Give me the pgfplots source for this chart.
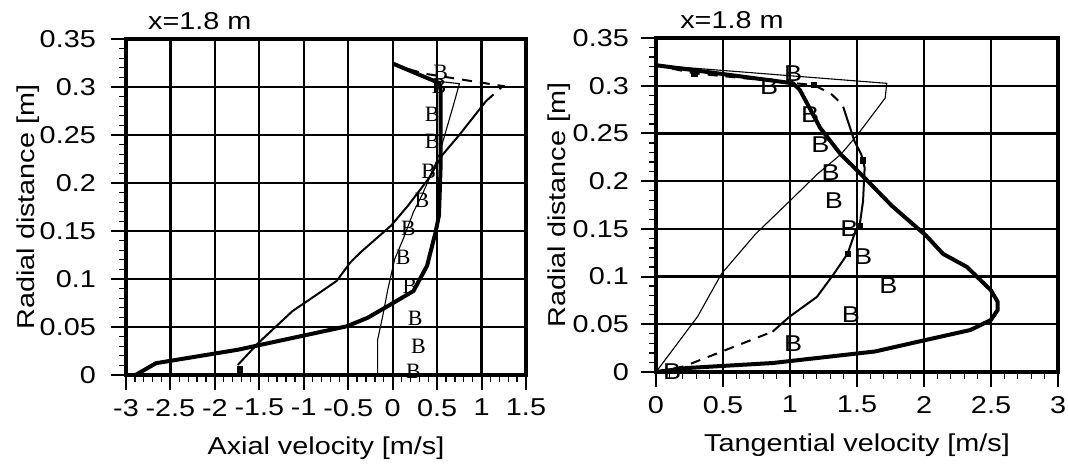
\documentclass[border=0pt]{standalone}
\usepackage{fontspec}
\setmainfont{Liberation Sans}[FakeStretch=1.18]
\newfontfamily\serifB{Liberation Serif}
\usepackage{pgfplots}
\pgfplotsset{compat=1.18}
\pgfplotsset{
  vel/.style={
    scale only axis, anchor=south west, clip mode=individual,
    ymin=0, ymax=0.35,
    ytick={0,0.05,0.1,0.15,0.2,0.25,0.3,0.35},
    yticklabels={0,0.05,0.1,0.15,0.2,0.25,0.3,0.35},
    minor tick num=4,
    tick align=outside, tick pos=left,
    major tick length=15bp, minor tick length=7bp,
    major tick style={line width=2bp, black},
    minor tick style={line width=1.3bp, black},
    axis line style={line width=3.4bp, black},
    grid=major, grid style={line width=2.3bp, black},
    major grid style={line width=2.3bp, black},
    tick label style={font=\fontsize{24.5}{28}\selectfont},
    yticklabel style={anchor=east, inner sep=0pt, xshift=-15bp},
    xticklabel style={anchor=north, inner sep=0pt, yshift=-9bp},
    every axis y label/.style={rotate=90, anchor=base, inner sep=0pt, font=\fontsize{24.5}{28}\selectfont},
    every axis x label/.style={anchor=base, inner sep=0pt, font=\fontsize{24.5}{28}\selectfont},
  },
  thickc/.style={line width=4bp, black},
  medc/.style={line width=2bp, black},
  thinc/.style={line width=1.1bp, black},
  dashc/.style={line width=2bp, black, dash pattern=on 10bp off 8bp},
  bL/.style={draw=none, nodes near coords={\serifB B},
    every node near coord/.append style={anchor=center, inner sep=0pt, font=\fontsize{22}{22}\selectfont}},
  bR/.style={draw=none, nodes near coords={B},
    every node near coord/.append style={anchor=center, inner sep=0pt, font=\fontsize{23}{23}\selectfont}},
}
\begin{document}
\begin{tikzpicture}
\path[use as bounding box] (0,0) rectangle (1068bp,466bp);
% ---------------- left: axial velocity ----------------
\begin{axis}[vel, at={(126bp,91bp)}, width=400bp, height=336bp,
  xmin=-3, xmax=1.5,
  xtick={-3,-2.5,-2,-1.5,-1,-0.5,0,0.5,1,1.5},
  xticklabels={-3,-2.5,-2,-1.5,-1,-0.5,0,0.5,1,1.5},
  xlabel={Axial velocity [m/s]}, ylabel={Radial distance [m]},
  xlabel style={at={(axis description cs:0.5,-0.238)}},
  ylabel style={at={(axis description cs:-0.23,0.5)}},
]
\addplot[thickc] coordinates {
 (-2.893,0) (-2.662,0.0123) (-1.742,0.0263) (-0.514,0.0508) (-0.284,0.0595)
 (-0.054,0.0718) (0.234,0.0875) (0.387,0.1138) (0.483,0.1488) (0.521,0.1663)
 (0.540,0.2188) (0.540,0.2958) (0.525,0.3040) (0.0,0.3245)};
\addplot[medc] coordinates {
 (-1.742,0.0105) (-1.512,0.0333) (-1.128,0.0665) (-0.821,0.0858) (-0.630,0.098)
 (-0.476,0.1173) (-0.361,0.1278) (-0.016,0.1558) (0.176,0.1768) (0.406,0.2048)
 (0.560,0.2293) (0.752,0.2503) (1.050,0.2853)};
\addplot[dashc] coordinates {(1.050,0.2853) (1.24,0.301) (0.35,0.314) (0.0,0.3235)};
\addplot[only marks, mark=square*, mark size=2.8bp, black] coordinates {(-1.723,0.006)};
\addplot[thinc] coordinates {
 (-0.169,0) (-0.169,0.0368) (-0.112,0.0613) (-0.054,0.0893) (0.023,0.1208)
 (0.119,0.1418) (0.234,0.1698) (0.330,0.1873) (0.445,0.2118) (0.521,0.2293)
 (0.598,0.2538) (0.675,0.2783) (0.751,0.3035) (0.5,0.306) (0.0,0.3245)};
\addplot[bL] coordinates {
 (0.540,0.315) (0.521,0.301) (0.445,0.2713) (0.445,0.2433) (0.406,0.2118)
 (0.330,0.182) (0.176,0.1523) (0.119,0.1225) (0.195,0.0928) (0.253,0.0595)
 (0.291,0.0298) (0.234,0.0035)};
\node[anchor=base west, inner sep=0pt, font=\fontsize{24.5}{28}\selectfont]
  at (axis description cs:0.055,1.027) {x=1.8 m};
\end{axis}
% ---------------- right: tangential velocity ----------------
\begin{axis}[vel, at={(656bp,94bp)}, width=402bp, height=334bp,
  xmin=0, xmax=3,
  xtick={0,0.5,1,1.5,2,2.5,3},
  xticklabels={0,0.5,1,1.5,2,2.5,3},
  yticklabel style={xshift=3bp},
  xlabel={Tangential velocity [m/s]}, ylabel={Radial distance [m]},
  xlabel style={at={(axis description cs:0.5,-0.2395)}},
  ylabel style={at={(axis description cs:-0.224,0.5)}},
]
\addplot[thickc] coordinates {
 (0,0) (0.234,0.0042) (0.870,0.0094) (1.634,0.0215) (2.015,0.0336) (2.346,0.044)
 (2.499,0.0545) (2.550,0.065) (2.550,0.0735) (2.499,0.0857) (2.321,0.110)
 (2.142,0.1238) (2.015,0.143) (1.761,0.174) (1.532,0.207) (1.379,0.228)
 (1.226,0.2556) (1.074,0.2955) (1.023,0.3025) (0,0.3215)};
\addplot[thinc] coordinates {
 (0,0) (0.310,0.058) (0.489,0.103) (0.743,0.1446) (0.997,0.179) (1.201,0.207)
 (1.379,0.228) (1.506,0.249) (1.710,0.287) (1.722,0.3025) (0,0.3215)};
\addplot[dashc] coordinates {(0,0) (0.209,0.0059) (0.870,0.0423)};
\addplot[medc] coordinates {
 (0.870,0.0423) (0.997,0.058) (1.201,0.0787) (1.328,0.103) (1.430,0.124)
 (1.481,0.1446) (1.519,0.153) (1.545,0.179) (1.557,0.214) (1.532,0.228)
 (1.481,0.242) (1.420,0.268)};
\addplot[dashc] coordinates {(1.420,0.268) (1.392,0.280) (1.303,0.292) (1.176,0.3007) (0.285,0.313) (0,0.3215)};
\addplot[only marks, mark=square*, mark size=2.6bp, black] coordinates {
 (0.285,0.313) (1.176,0.3007) (1.519,0.153) (1.43,0.124) (1.545,0.222)};
\addplot[bR] coordinates {
 (1.023,0.3129) (0.845,0.2989) (1.150,0.2695) (1.226,0.2383) (1.303,0.2088)
 (1.328,0.1793) (1.443,0.1498) (1.545,0.1204) (1.735,0.0909) (1.455,0.0597)
 (1.023,0.0302) (0.12,0.0007)};
\node[anchor=base west, inner sep=0pt, font=\fontsize{24.5}{28}\selectfont]
  at (axis description cs:0.06,1.027) {x=1.8 m};
\end{axis}
\end{tikzpicture}
\end{document}
